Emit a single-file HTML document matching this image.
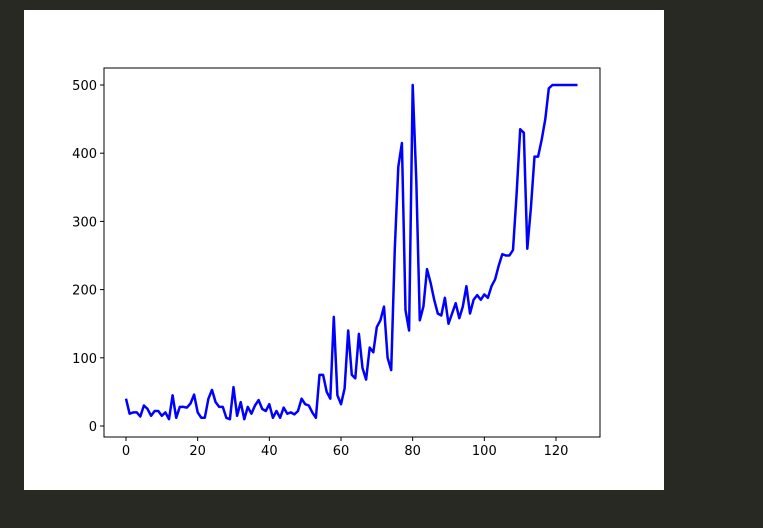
<!DOCTYPE html>
<html><head><meta charset="utf-8"><style>
html,body{margin:0;padding:0;background:#282923;width:763px;height:528px;overflow:hidden}
svg{position:absolute;left:0;top:0}
text{font-family:"DejaVu Sans","Liberation Sans",sans-serif;font-size:13px;fill:#000}
</style></head><body>
<svg width="763" height="528">
<rect x="24" y="10" width="640" height="480" fill="#fff"/>
<g id="plot"></g>
</svg>
<script>
const values=[40,18,20,20,14,30,25,15,22,22,15,20,10,45,12,28,28,27,33,46,20,12,12,40,53,35,28,28,12,10,57,15,35,10,28,18,30,38,25,22,32,12,22,12,27,18,20,17,22,40,32,30,20,12,75,75,50,40,160,45,32,55,140,75,70,135,85,68,115,108,145,155,175,100,82,260,380,415,170,140,500,360,155,175,230,210,185,165,162,188,150,165,180,158,175,205,165,185,192,185,193,188,205,215,235,252,250,250,258,340,435,430,260,320,395,395,420,450,495,500,500,500,500,500,500,500,500];
const xTicks=[0,20,40,60,80,100,120];
const yTicks=[0,100,200,300,400,500];
const L=104,R=600,T=68,B=437;
const sx=v=>126+v*(556-126)/120;
const sy=v=>426-v*(426-85)/500;
const NS="http://www.w3.org/2000/svg";
const g=document.getElementById('plot');
function mk(t,a){const e=document.createElementNS(NS,t);for(const k in a)e.setAttribute(k,a[k]);g.appendChild(e);return e;}
const pts=values.map((v,i)=>sx(i).toFixed(1)+','+sy(v).toFixed(1)).join(' ');
const line=mk('polyline',{points:pts,fill:'none',stroke:'#0000ff','stroke-width':2.5,'stroke-linejoin':'round'});


const frame=mk('rect',{x:L,y:T,width:R-L,height:B-T,fill:'none',stroke:'#000','stroke-width':1});


xTicks.forEach(t=>{
  const x=sx(t);
  const tk=mk('line',{x1:x,x2:x,y1:B,y2:B+4,stroke:'#000'});
  
  
  const tx=mk('text',{x:x,y:B+18,'text-anchor':'middle'});tx.textContent=t;
  
  
});
yTicks.forEach(t=>{
  const y=sy(t);
  const tk=mk('line',{x1:L-4,x2:L,y1:y,y2:y,stroke:'#000'});
  
  
  const tx=mk('text',{x:L-7,y:y+5,'text-anchor':'end'});tx.textContent=t;
  
  
});
</script>
</body></html>
